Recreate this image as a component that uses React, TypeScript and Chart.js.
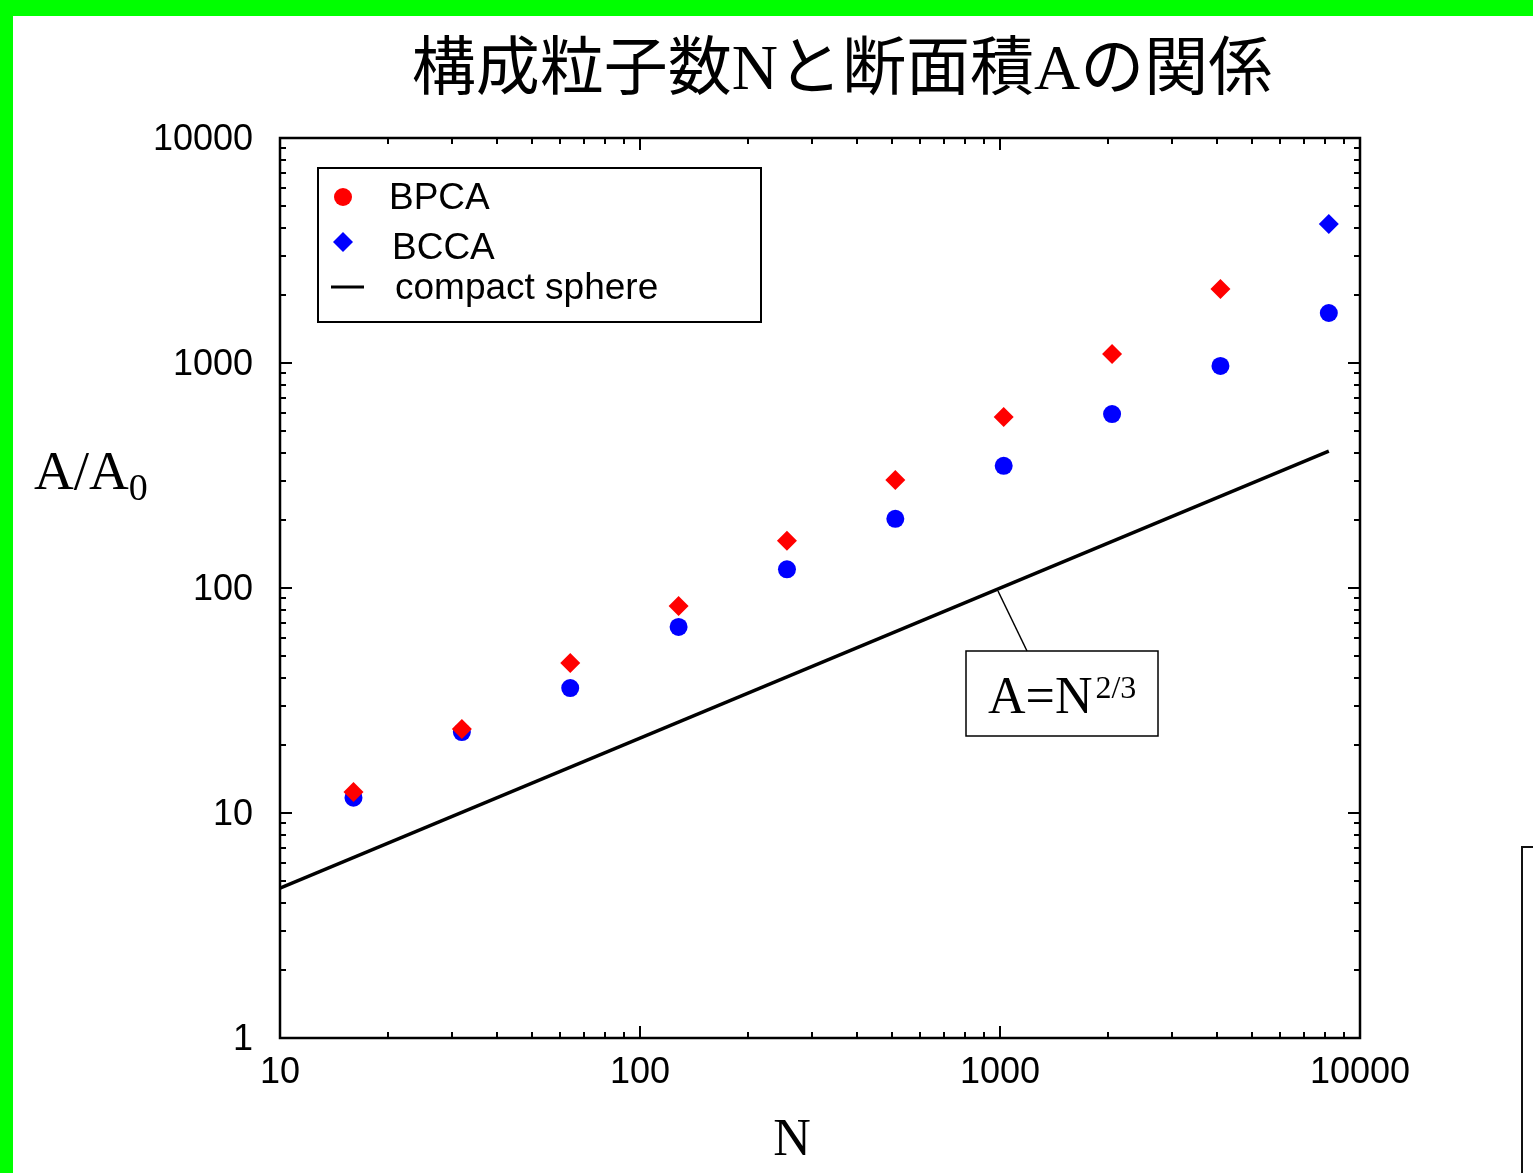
import React, { useEffect, useRef } from 'react';
import { Chart, registerables } from 'chart.js';

Chart.register(...registerables);

// ---- data ----
const N_VALUES = [16, 32, 64, 128, 256, 512, 1024, 2048, 4096, 8192];
const DIAMOND_VALUES = [12.4, 23.6, 46.4, 83.2, 162, 302, 575, 1096, 2133, 4150];
const DIAMOND_COLORS = ['#ff0000', '#ff0000', '#ff0000', '#ff0000', '#ff0000', '#ff0000', '#ff0000', '#ff0000', '#ff0000', '#0000ff'];
const CIRCLE_VALUES = [11.7, 22.9, 35.9, 67.1, 121, 203, 349, 593, 970, 1668];
const LINE_N = [10, 8192];
const LINE_A = [4.64, 406];
const X_TICK_LABELS = ['10', '100', '1000', '10000'];
const Y_TICK_LABELS = ['1', '10', '100', '1000', '10000'];
const LEGEND_LABELS = ['BPCA', 'BCCA', 'compact sphere'];
const TITLE_PARTS: [string, boolean][] = [
  ['構成粒子数', true],
  ['N', false],
  ['と断面積', true],
  ['A', false],
  ['の関係', true],
];
const ANNOTATION_POINT = { x: 1000, y: 100 };

const SANS = '"Liberation Sans", Arial, Helvetica, sans-serif';
const SERIF = '"Liberation Serif", "Times New Roman", serif';
const CJK = '"Noto Sans CJK JP", "Noto Sans CJK SC", sans-serif';

function findLabel(list: string[], value: number): string {
  const hit = list.find((t) => Math.abs(Number(t) - value) / Number(t) < 1e-6);
  return hit ?? '';
}

const decorPlugin = {
  id: 'decor',
  beforeDatasetsDraw(chart: any) {
    const { ctx, chartArea: ca, scales } = chart;
    const xs = scales.x;
    const ys = scales.y;
    ctx.save();
    ctx.strokeStyle = '#000';
    ctx.lineWidth = 2;
    ctx.beginPath();
    // x ticks (bottom & top, inward)
    for (let d = 1; d <= 4; d++) {
      for (let k = 1; k <= 9; k++) {
        const v = k * Math.pow(10, d);
        if (v < 10 || v > 10000) continue;
        const px = Math.round(xs.getPixelForValue(v));
        const len = k === 1 ? 12 : 6;
        ctx.moveTo(px, ca.bottom);
        ctx.lineTo(px, ca.bottom - len);
        ctx.moveTo(px, ca.top);
        ctx.lineTo(px, ca.top + len);
      }
    }
    // y ticks (left & right, inward)
    for (let d = 0; d <= 4; d++) {
      for (let k = 1; k <= 9; k++) {
        const v = k * Math.pow(10, d);
        if (v < 1 || v > 10000) continue;
        const py = Math.round(ys.getPixelForValue(v));
        const len = k === 1 ? 12 : 6;
        ctx.moveTo(ca.left, py);
        ctx.lineTo(ca.left + len, py);
        ctx.moveTo(ca.right, py);
        ctx.lineTo(ca.right - len, py);
      }
    }
    ctx.stroke();
    // frame
    ctx.lineWidth = 2.5;
    ctx.strokeRect(ca.left, ca.top, ca.right - ca.left, ca.bottom - ca.top);
    ctx.restore();
  },
  afterDraw(chart: any) {
    const { ctx, chartArea: ca, scales } = chart;
    ctx.save();

    // ---- title ----
    const titleSize = 64;
    let total = 0;
    const widths: number[] = [];
    TITLE_PARTS.forEach(([t, cjk]) => {
      ctx.font = `${titleSize}px ${cjk ? CJK : SERIF}`;
      const w = ctx.measureText(t).width;
      widths.push(w);
      total += w;
    });
    let tx = 842 - total / 2;
    ctx.fillStyle = '#000';
    ctx.textBaseline = 'alphabetic';
    ctx.textAlign = 'left';
    TITLE_PARTS.forEach(([t, cjk], i) => {
      ctx.font = `${titleSize}px ${cjk ? CJK : SERIF}`;
      ctx.fillText(t, tx, 89);
      tx += widths[i];
    });

    // ---- y axis title A/A0 ----
    ctx.font = `55px ${SERIF}`;
    ctx.fillText('A/A', 34, 489);
    const aw = ctx.measureText('A/A').width;
    ctx.font = `38px ${SERIF}`;
    ctx.fillText('0', 34 + aw, 500);

    // ---- x axis title N ----
    ctx.font = `52px ${SERIF}`;
    ctx.textAlign = 'center';
    ctx.fillText('N', 792, 1155);
    ctx.textAlign = 'left';

    // ---- legend ----
    const lx = ca.left + 38;
    const ly = ca.top + 30;
    ctx.lineWidth = 2;
    ctx.strokeStyle = '#000';
    ctx.strokeRect(lx, ly, 443, 154);
    ctx.fillStyle = '#ff0000';
    ctx.beginPath();
    ctx.arc(lx + 25, ly + 29, 9, 0, Math.PI * 2);
    ctx.fill();
    ctx.fillStyle = '#0000ff';
    ctx.beginPath();
    const dx = lx + 25;
    const dy = ly + 74;
    ctx.moveTo(dx - 10, dy);
    ctx.lineTo(dx, dy - 10);
    ctx.lineTo(dx + 10, dy);
    ctx.lineTo(dx, dy + 10);
    ctx.closePath();
    ctx.fill();
    ctx.lineWidth = 3;
    ctx.beginPath();
    ctx.moveTo(lx + 13, ly + 119);
    ctx.lineTo(lx + 46, ly + 119);
    ctx.stroke();
    ctx.fillStyle = '#000';
    ctx.font = `37px ${SANS}`;
    ctx.fillText(LEGEND_LABELS[0], lx + 71, ly + 41);
    ctx.fillText(LEGEND_LABELS[1], lx + 74, ly + 91);
    ctx.fillText(LEGEND_LABELS[2], lx + 77, ly + 131);

    // ---- annotation ----
    const bx = 966;
    const by = 651;
    const px = scales.x.getPixelForValue(ANNOTATION_POINT.x);
    const py = scales.y.getPixelForValue(ANNOTATION_POINT.y);
    ctx.lineWidth = 1.5;
    ctx.beginPath();
    ctx.moveTo(px - 2, py + 3);
    ctx.lineTo(1027, by);
    ctx.stroke();
    ctx.strokeRect(bx, by, 192, 85);
    ctx.font = `52px ${SERIF}`;
    ctx.fillText('A=N', 988, 713);
    const nw = ctx.measureText('A=N').width;
    ctx.font = `32px ${SERIF}`;
    ctx.fillText('2/3', 988 + nw + 3, 698);

    ctx.restore();
  },
};

export default function App() {
  const canvasRef = useRef<HTMLCanvasElement | null>(null);

  useEffect(() => {
    if (!canvasRef.current) return;
    const chart = new Chart(canvasRef.current, {
      type: 'scatter',
      data: {
        datasets: [
          {
            label: 'diamonds',
            data: N_VALUES.map((n, i) => ({ x: n, y: DIAMOND_VALUES[i] })),
            pointStyle: 'rectRot',
            pointRadius: 10,
            pointBorderWidth: 0,
            backgroundColor: DIAMOND_COLORS,
            pointBackgroundColor: DIAMOND_COLORS,
            borderWidth: 0,
            order: 0,
          },
          {
            label: 'circles',
            data: N_VALUES.map((n, i) => ({ x: n, y: CIRCLE_VALUES[i] })),
            pointStyle: 'circle',
            pointRadius: 9,
            pointBorderWidth: 0,
            backgroundColor: '#0000ff',
            pointBackgroundColor: '#0000ff',
            borderWidth: 0,
            order: 1,
          },
          {
            label: 'compact sphere',
            data: LINE_N.map((n, i) => ({ x: n, y: LINE_A[i] })),
            showLine: true,
            pointRadius: 0,
            borderColor: '#000',
            borderWidth: 3.5,
            fill: false,
            order: 2,
          } as any,
        ],
      },
      options: {
        responsive: false,
        animation: false,
        layout: { padding: { left: 140, top: 138, right: 173, bottom: 75 } },
        plugins: {
          legend: { display: false },
          tooltip: { enabled: false },
          title: { display: false },
        },
        scales: {
          x: {
            type: 'logarithmic',
            position: 'bottom',
            min: 10,
            max: 10000,
            grid: { display: false, drawTicks: false },
            border: { display: false },
            ticks: {
              autoSkip: false,
              maxRotation: 0,
              padding: 13,
              color: '#000',
              font: { family: SANS, size: 36 },
              callback: (v: any) => findLabel(X_TICK_LABELS, Number(v)),
            },
            afterFit: (s: any) => {
              s.height = 60;
            },
          },
          y: {
            type: 'logarithmic',
            position: 'left',
            min: 1,
            max: 10000,
            grid: { display: false, drawTicks: false },
            border: { display: false },
            ticks: {
              autoSkip: false,
              padding: 27,
              labelOffset: 2,
              color: '#000',
              font: { family: SANS, size: 36 },
              callback: (v: any) => findLabel(Y_TICK_LABELS, Number(v)),
            },
            afterFit: (s: any) => {
              s.width = 140;
            },
          },
        },
      } as any,
      plugins: [decorPlugin],
    });
    return () => chart.destroy();
  }, []);

  return (
    <div
      style={{
        position: 'absolute',
        left: 0,
        top: 0,
        width: 1533,
        height: 1173,
        background: '#00ff00',
        overflow: 'hidden',
      }}
    >
      <div style={{ position: 'absolute', left: 13, top: 16, right: 0, bottom: 0, background: '#fff' }} />
      <div
        style={{
          position: 'absolute',
          left: 1521,
          top: 846,
          width: 60,
          height: 400,
          border: '2px solid #111',
        }}
      />
      <canvas
        ref={canvasRef}
        width={1533}
        height={1173}
        style={{ position: 'absolute', left: 0, top: 0, width: 1533, height: 1173 }}
      />
    </div>
  );
}
